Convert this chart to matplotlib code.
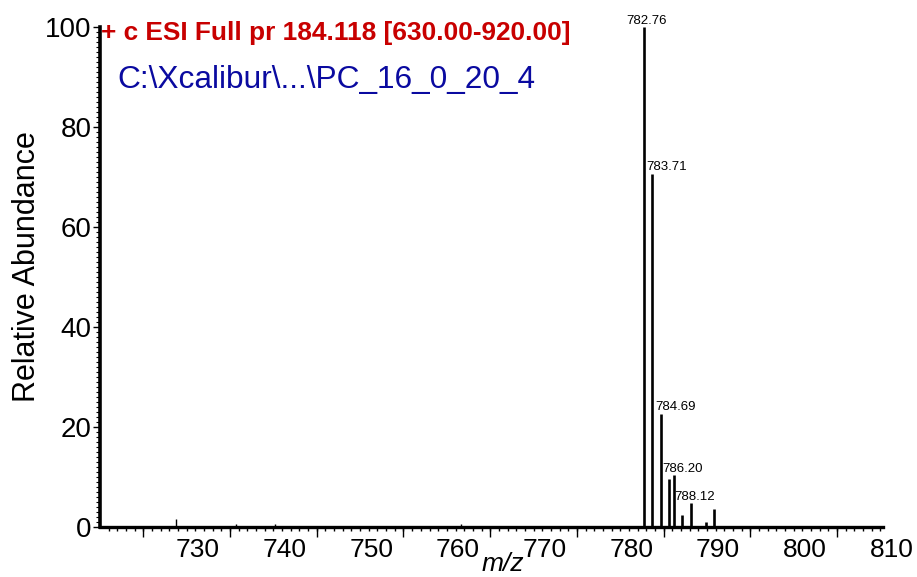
import matplotlib.pyplot as plt
from matplotlib.transforms import ScaledTranslation

plt.rcParams['font.family'] = ['Liberation Sans', 'DejaVu Sans']

# labelled peaks (m/z, relative abundance)
peak_mz = [782.76, 783.71, 784.69, 785.58, 786.20, 787.08, 788.12, 789.85, 790.80]
peak_int = [100.0, 70.7, 22.7, 9.7, 10.5, 2.4, 4.9, 1.1, 3.7]
labelled = ['782.76', '783.71', '784.69', None, '786.20', None, '788.12', None, None]
label_dx = [2, 14, 15, 0, 9, 0, 4, 0, 0]   # px shift of peak labels

# small noise peaks
noise_mz = [728.8, 735.7, 738.4, 740.2, 761.6, 762.9, 793.2, 796.9, 799.9]
noise_int = [1.6, 0.6, 0.3, 0.6, 0.6, 0.3, 0.3, 0.3, 0.2]

xticks = [730, 740, 750, 760, 770, 780, 790, 800, 810]
yticks = [0, 20, 40, 60, 80, 100]

fig = plt.figure(figsize=(9.17, 5.77), dpi=100)
ax = fig.add_axes([100 / 917, 50 / 577, 783 / 917, 502.5 / 577])

ax.vlines(peak_mz, 0, peak_int, color='black', lw=1.9)
ax.vlines(noise_mz, 0, noise_int, color='black', lw=1.0)

for mz, h, lab, dx in zip(peak_mz, peak_int, labelled, label_dx):
    if lab:
        ax.annotate(lab, xy=(mz, h), xytext=(dx * 0.72, 0), textcoords='offset points',
                    ha='center', va='bottom', fontsize=9.5)

ax.set_xlim(720, 810.3)
ax.set_ylim(0, 100.5)

for s in ['top', 'right']:
    ax.spines[s].set_visible(False)
ax.spines['left'].set_linewidth(2.6)
ax.spines['bottom'].set_linewidth(2.4)
ax.spines['left'].set_bounds(0, 100)

ax.set_xticks(xticks)
ax.set_xticks(range(721, 811), minor=True)
ax.set_yticks(yticks)
ax.set_yticks(range(0, 101, 1), minor=True)
ax.tick_params(axis='x', which='both', length=3, width=1, direction='out', labelsize=19, pad=5)
ax.tick_params(axis='y', which='major', length=5, width=1, direction='out', labelsize=20, pad=1)
ax.tick_params(axis='y', which='minor', length=3, width=0.8, direction='out')

# longer ticks halfway between the labels
sec = ax.secondary_xaxis('bottom')
sec.set_xticks(range(725, 811, 10))
sec.tick_params(length=7, width=1, labelbottom=False)
sec.spines['bottom'].set_visible(False)

off = ScaledTranslation(11 / 100, 0, fig.dpi_scale_trans)
for lab in ax.get_xticklabels():
    lab.set_transform(lab.get_transform() + off)

ax.set_ylabel('Relative Abundance', fontsize=22)
ax.yaxis.set_label_coords(-0.074, 0.519)
ax.set_xlabel('m/z', fontsize=19, style='italic')
ax.xaxis.set_label_coords(0.515, -0.05)

fig.text(101 / 917, 1 - 33 / 577, '+ c ESI Full pr 184.118 [630.00-920.00]',
         color='#c80000', fontsize=18.9, fontweight='bold', va='center', ha='left')
fig.text(117 / 917, 1 - 80 / 577, 'C:\\Xcalibur\\...\\PC_16_0_20_4',
         color='#0a0aa0', fontsize=22.8, va='center', ha='left')

fig.savefig('out.png', dpi=100)
